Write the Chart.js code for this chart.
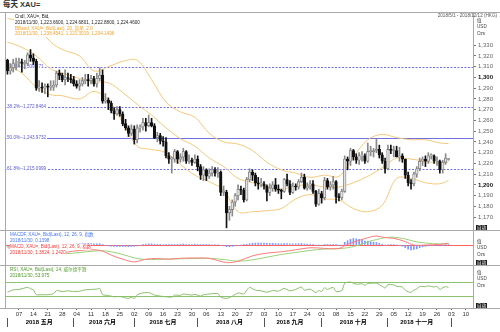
<!DOCTYPE html>
<html lang="zh">
<head>
<meta charset="utf-8">
<title>每天 XAU=</title>
<script src="https://cdn.jsdelivr.net/npm/chart.js@4.4.1/dist/chart.umd.min.js"></script>
<style>
  html, body { margin: 0; padding: 0; background: #fff; }
  body { width: 500px; height: 332px; position: relative; overflow: hidden;
         font-family: 'Liberation Sans', Arial, 'Noto Sans CJK SC', sans-serif; color: #222; }
  .panel { position: absolute; left: 0; width: 500px; }
  .panel canvas { display: block; }
  .hline { position: absolute; left: 0; width: 500px; height: 1px; background: #a9a9a9; }
  .vline { position: absolute; width: 1px; background: #a9a9a9; }
  .note { position: absolute; white-space: nowrap; font-size: 4.6px; line-height: 6px; background: #fff; }
  .legend { position: absolute; background: #fff; padding: 0 1px; }
  .legend div { white-space: nowrap; font-size: 4.6px; line-height: 5.8px; }
  .unit { position: absolute; left: 477px; font-size: 4.6px; line-height: 6.3px; color: #444; }
  .auto { position: absolute; left: 476px; background: #1a1a1a; color: #fff; font-size: 4.6px; line-height: 5px; padding: 0 1px; }
  #title { position: absolute; left: 3px; top: 0; font-size: 7.5px; font-weight: bold; line-height: 10px; color: #333; }
  #range { position: absolute; right: 3px; top: 13px; font-size: 4.6px; line-height: 5px; color: #555; }
</style>
</head>
<body>
<div id="title">每天 XAU=</div>
<div class="hline" style="top:12px"></div>
<div class="hline" style="top:230px"></div>
<div class="hline" style="top:265px"></div>
<div class="hline" style="top:308px"></div>
<div class="vline" style="left:5px;top:12px;height:297px"></div>

<div class="panel" style="top:13px;height:217px"><canvas id="mainChart"></canvas></div>
<div class="panel" style="top:231px;height:34px"><canvas id="macdChart"></canvas></div>
<div class="panel" style="top:266px;height:66px"><canvas id="rsiChart"></canvas></div>

<div id="range">2018/5/1 - 2018/12/12 (HKG)</div>
<div class="legend" style="left:14px;top:14px">
  <div style="color:#222">Cndl, XAU=, Bid,</div>
  <div style="color:#222">2018/11/30, 1,223.6600, 1,224.6801, 1,222.8800, 1,224.4600</div>
  <div style="color:#f0a530">BBand, XAU=, Bid(Last), 20, 简单, 2.0</div>
  <div style="color:#f0a530">2018/11/30, 1,238.4541, 1,221.3019, 1,204.1496</div>
</div>
<div class="unit" style="top:18px">值<br>USD<br>Ozs</div>
<div class="auto" style="top:225px">自动</div>

<div class="note" style="left:10px;top:232px;color:#4a78f0">MACDF, XAU=, Bid(Last), 12, 26, 9, 指数</div>
<div class="note" style="left:10px;top:237.5px;color:#4a78f0">2018/11/30, 0.1398</div>
<div class="note" style="left:10px;top:243.5px;color:#f03c3c">MACD, XAU=, Bid(Last), 12, 26, 9, 指数</div>
<div class="note" style="left:10px;top:249.5px;color:#f03c3c">2018/11/30, 1.3824, 1.2420</div>
<div class="unit" style="top:239px">值<br>USD<br>Ozs</div>
<div class="auto" style="top:260px">自动</div>

<div class="note" style="left:10px;top:267px;color:#4f9a2c">RSI, XAU=, Bid(Last), 14, 威尔德平滑</div>
<div class="note" style="left:10px;top:272.5px;color:#4f9a2c">2018/11/30, 53.975</div>
<div class="unit" style="top:270px">值<br>USD<br>Ozs</div>
<div class="auto" style="top:303px">自动</div>

<script>
// ===== Dados =====
const firstDay = '2018-05-01';
const lastDay = '2018-12-12';
const monthNames = ['五月', '六月', '七月', '八月', '九月', '十月', '十一月'];
const priceTicks = [1170, 1180, 1190, 1200, 1210, 1220, 1230, 1240, 1250, 1260,
  1270, 1280, 1290, 1300, 1310, 1320, 1330];

// daily candles, one per trading day from 2018-05-01
const opens = [
  1316, 1306, 1309, 1313, 1314, 1314, 1313, 1313, 1321, 1318,
  1315, 1290, 1291, 1290, 1292, 1291, 1291, 1293, 1304, 1302,
  1298, 1300, 1299, 1298, 1294, 1292, 1294, 1297, 1298, 1297,
  1299, 1294, 1299, 1302, 1278, 1279, 1276, 1269, 1266, 1270,
  1266, 1257, 1253, 1248, 1252, 1242, 1253, 1254, 1258, 1255,
  1258, 1255, 1244, 1246, 1241, 1240, 1227, 1224, 1224, 1231,
  1224, 1226, 1231, 1222, 1223, 1221, 1224, 1217, 1209, 1214,
  1208, 1211, 1214, 1211, 1212, 1193, 1193, 1174, 1177, 1184,
  1190, 1196, 1195, 1186, 1205, 1212, 1209, 1202, 1201, 1201,
  1199, 1193, 1197, 1200, 1196, 1195, 1194, 1205, 1201, 1193,
  1199, 1198, 1203, 1207, 1197, 1199, 1201, 1194, 1182, 1192,
  1188, 1204, 1198, 1200, 1203, 1189, 1188, 1194, 1224, 1222,
  1232, 1226, 1223, 1227, 1227, 1222, 1231, 1231, 1232, 1233,
  1228, 1222, 1215, 1233, 1232, 1232, 1226, 1227, 1224, 1209,
  1202, 1201, 1210, 1215, 1222, 1224, 1222, 1227, 1227, 1222,
  1222, 1214, 1221, 1223.66
];
const highs = [
  1317, 1313, 1317, 1318, 1318, 1317, 1316, 1323, 1326, 1322,
  1317, 1297, 1295, 1294, 1294, 1297, 1297, 1306, 1307, 1304,
  1307, 1304, 1303, 1301, 1297, 1298, 1300, 1303, 1303, 1302,
  1301, 1304, 1309, 1307, 1285, 1281, 1278, 1272, 1273, 1273,
  1268, 1261, 1255, 1256, 1255, 1256, 1256, 1262, 1262, 1265,
  1262, 1257, 1249, 1248, 1245, 1244, 1230, 1226, 1233, 1232,
  1229, 1234, 1232, 1228, 1225, 1228, 1227, 1219, 1217, 1215,
  1215, 1217, 1216, 1216, 1213, 1199, 1195, 1180, 1186, 1192,
  1200, 1199, 1197, 1207, 1215, 1214, 1211, 1207, 1206, 1203,
  1200, 1201, 1203, 1206, 1200, 1196, 1206, 1210, 1204, 1202,
  1201, 1205, 1211, 1210, 1202, 1204, 1204, 1195, 1196, 1194,
  1207, 1206, 1203, 1208, 1204, 1192, 1196, 1227, 1226, 1234,
  1233, 1229, 1230, 1231, 1229, 1239, 1236, 1234, 1243, 1237,
  1230, 1225, 1237, 1237, 1236, 1236, 1235, 1229, 1224, 1212,
  1205, 1212, 1217, 1225, 1226, 1227, 1230, 1229, 1228, 1226,
  1223, 1223, 1229, 1224.68
];
const lows = [
  1303, 1303, 1305, 1307, 1310, 1305, 1308, 1311, 1315, 1312,
  1288, 1287, 1286, 1285, 1282, 1288, 1288, 1291, 1298, 1296,
  1293, 1296, 1295, 1292, 1290, 1288, 1292, 1294, 1292, 1294,
  1292, 1291, 1297, 1276, 1276, 1270, 1267, 1261, 1265, 1264,
  1255, 1251, 1245, 1246, 1238, 1239, 1249, 1251, 1250, 1254,
  1254, 1243, 1240, 1238, 1236, 1225, 1220, 1211, 1221, 1220,
  1221, 1222, 1220, 1220, 1218, 1220, 1213, 1205, 1204, 1204,
  1206, 1208, 1208, 1207, 1190, 1190, 1160, 1167, 1171, 1180,
  1186, 1191, 1184, 1185, 1203, 1204, 1199, 1196, 1198, 1196,
  1185, 1190, 1194, 1194, 1192, 1187, 1193, 1199, 1191, 1192,
  1195, 1196, 1202, 1196, 1195, 1196, 1192, 1180, 1181, 1183,
  1186, 1196, 1195, 1196, 1183, 1185, 1186, 1193, 1214, 1218,
  1223, 1220, 1219, 1222, 1220, 1221, 1227, 1226, 1230, 1225,
  1220, 1211, 1214, 1229, 1226, 1226, 1222, 1221, 1206, 1199,
  1196, 1199, 1207, 1213, 1218, 1217, 1220, 1224, 1220, 1218,
  1211, 1211, 1219, 1222.88
];
const closes = [
  1306, 1309, 1313, 1314, 1314, 1313, 1313, 1321, 1318, 1315,
  1290, 1291, 1290, 1292, 1291, 1291, 1293, 1304, 1302, 1298,
  1300, 1299, 1298, 1294, 1292, 1294, 1297, 1298, 1297, 1299,
  1294, 1299, 1302, 1278, 1279, 1276, 1269, 1266, 1270, 1266,
  1257, 1253, 1248, 1252, 1242, 1253, 1254, 1258, 1255, 1258,
  1255, 1244, 1246, 1241, 1240, 1227, 1224, 1224, 1231, 1224,
  1226, 1231, 1222, 1223, 1221, 1224, 1217, 1209, 1214, 1208,
  1211, 1214, 1211, 1212, 1193, 1193, 1174, 1177, 1184, 1190,
  1196, 1195, 1186, 1205, 1212, 1209, 1202, 1201, 1201, 1199,
  1193, 1197, 1200, 1196, 1195, 1194, 1205, 1201, 1193, 1199,
  1198, 1203, 1207, 1197, 1199, 1201, 1194, 1182, 1192, 1188,
  1204, 1198, 1200, 1203, 1189, 1188, 1194, 1224, 1222, 1232,
  1226, 1223, 1227, 1227, 1222, 1231, 1231, 1232, 1233, 1228,
  1222, 1215, 1233, 1232, 1232, 1226, 1227, 1224, 1209, 1202,
  1201, 1210, 1215, 1222, 1224, 1222, 1227, 1227, 1222, 1222,
  1214, 1221, 1225, 1224.46
];

// Bollinger (20, 2.0)
const bandDays = ['05-01', '05-08', '05-15', '05-22', '05-28', '06-05', '06-12', '06-19',
  '06-26', '07-03', '07-10', '07-17', '07-24', '07-31', '08-07', '08-14', '08-21', '08-28',
  '09-04', '09-11', '09-18', '09-25', '10-02', '10-09', '10-16', '10-23', '10-30', '11-06',
  '11-13', '11-20', '11-27', '11-30'];
const bandUpper = [1355, 1352, 1348, 1333, 1326, 1320, 1306, 1310, 1315, 1316, 1298, 1277,
  1268, 1263, 1248, 1240, 1238, 1232, 1221, 1214, 1211, 1207, 1209, 1208, 1226, 1242, 1247,
  1244, 1242, 1242, 1239, 1238.4541];
const bandMiddle = [1333, 1328, 1320, 1308, 1304, 1299, 1296, 1295, 1286, 1275, 1265, 1253,
  1243, 1236, 1225, 1217, 1206, 1202, 1198, 1196, 1199, 1200, 1198, 1198, 1202, 1208, 1216,
  1225, 1224, 1222, 1220, 1221.3019];
const bandLower = [1311, 1304, 1291, 1284, 1283, 1280, 1287, 1279, 1258, 1236, 1233, 1230,
  1219, 1209, 1203, 1195, 1175, 1175, 1176, 1178, 1187, 1191, 1187, 1186, 1178, 1175, 1181,
  1206, 1206, 1202, 1201, 1204.1496];

// Fibonacci retracement levels
const fibRatios = ['23.6%', '38.2%', '50.0%', '61.8%'];
const fibLevels = [1309.571, 1272.8464, 1243.9732, 1215.0999];
const fibDashed = [true, true, false, true];

// MACD (12, 26, 9)
const macdDays = ['05-01', '05-08', '05-15', '05-22', '05-29', '06-05', '06-12', '06-15',
  '06-20', '06-26', '07-02', '07-06', '07-12', '07-18', '07-24', '07-31', '08-07', '08-15',
  '08-21', '08-28', '09-04', '09-11', '09-18', '09-25', '10-02', '10-09', '10-12', '10-18',
  '10-24', '10-26', '10-31', '11-05', '11-09', '11-14', '11-20', '11-27', '11-30'];
const macdLine = [-2, -4, -6, -7.5, -5.5, -4, -3.5, -4.5, -7.5, -10.5, -12.5, -10.5, -10,
  -10.5, -9.8, -9.6, -9.9, -13, -12, -8, -6, -5, -3.5, -2, -2.5, -2.5, 0.5, 3.5, 6, 6.7,
  5.5, 5, 2.5, 0, 0, 0.5, 1.3824];
const signalLine = [-1, -2, -4, -6, -6.5, -5.5, -4.5, -4.2, -5, -7, -9.5, -10.8, -10.6,
  -10.4, -10.2, -10, -9.8, -11, -12, -11, -9, -7, -5.5, -4, -3, -2.7, -2, 0, 3, 4, 5.5, 5.8,
  4.5, 2.8, 1.5, 0.8, 1.2420];
// MACDF bars, one per candle day
const macdHist = [
  -0.8, -0.9, -0.8, -0.7, -0.6, -0.6, -0.5, -0.2, -0.1, -0.2,
  -1.2, -1.6, -1.8, -1.7, -1.5, -1.2, -1.0, -0.5, -0.2, 0.1,
  0.3, 0.5, 0.6, 0.6, 0.7, 0.8, 0.9, 1.0, 1.0, 1.0,
  0.8, 0.9, 1.0, 0.3, -0.3, -0.6, -0.9, -1.0, -1.0, -1.0,
  -1.1, -1.1, -1.2, -1.0, -1.0, -0.6, -0.2, 0.3, 0.7, 0.9,
  0.9, 0.6, 0.6, 0.5, 0.4, 0.2, 0.1, 0.1, 0.4, 0.5,
  0.6, 0.8, 0.6, 0.6, 0.6, 0.7, 0.5, 0.3, 0.3, 0.2,
  0.3, 0.4, 0.4, 0.4, -0.3, -0.6, -1.2, -1.3, -1.0, -0.6,
  -0.3, 0.0, 0.2, 0.6, 1.0, 1.3, 1.4, 1.5, 1.5, 1.4,
  1.2, 1.2, 1.2, 1.1, 1.0, 0.9, 1.1, 1.1, 0.9, 0.9,
  0.9, 1.0, 1.1, 0.8, 0.7, 0.7, 0.5, 0.0, 0.0, -0.1,
  0.3, 0.3, 0.4, 0.5, 0.1, -0.1, 0.0, 2.0, 3.2, 4.2,
  4.8, 4.6, 4.2, 3.8, 3.0, 2.9, 2.5, 2.1, 1.8, 1.2,
  0.6, -0.1, 0.4, 0.5, 0.4, 0.0, -0.3, -0.8, -1.9, -3.0,
  -3.6, -3.3, -2.8, -2.0, -1.4, -1.0, -0.6, -0.3, -0.2, -0.1,
  -0.3, -0.1, 0.1, 0.1398
];
const macdZero = [0];

// RSI (14)
const rsiDays = ['05-01', '05-03', '05-07', '05-10', '05-11', '05-14', '05-15', '05-17',
  '05-21', '05-23', '05-24', '05-28', '05-30', '06-01', '06-05', '06-07', '06-11', '06-13',
  '06-14', '06-15', '06-19', '06-21', '06-25', '06-27', '06-28', '06-29', '07-02', '07-03',
  '07-05', '07-09', '07-11', '07-13', '07-17', '07-19', '07-20', '07-24', '07-25', '07-26',
  '07-30', '07-31', '08-02', '08-03', '08-06', '08-08', '08-10', '08-13', '08-15', '08-17',
  '08-21', '08-23', '08-24', '08-27', '08-29', '08-31', '09-04', '09-06', '09-10', '09-12',
  '09-14', '09-18', '09-20', '09-21', '09-25', '09-27', '09-28', '10-01', '10-02', '10-03',
  '10-05', '10-08', '10-10', '10-11', '10-15', '10-17', '10-19', '10-22', '10-23', '10-26',
  '10-29', '10-30', '10-31', '11-01', '11-05', '11-06', '11-08', '11-09', '11-12', '11-13',
  '11-14', '11-15', '11-16', '11-20', '11-21', '11-23', '11-26', '11-27', '11-28', '11-29',
  '11-30'];
const rsiValues = [40, 47, 48, 54, 50, 47, 33, 33,
  33, 36, 45, 42, 44, 42, 43, 47, 48, 49,
  51, 33, 31, 27, 28, 24, 22, 26, 22, 33,
  38, 39, 32, 29, 27, 26, 32, 31, 35, 34,
  32, 34, 29, 33, 34, 36, 36, 26, 22, 29,
  38, 35, 46, 54, 46, 44, 40, 45, 43, 51,
  44, 48, 55, 46, 49, 39, 45, 42, 53, 48,
  54, 42, 45, 66, 69, 63, 64, 60, 65, 66,
  62, 57, 52, 62, 61, 57, 55, 46, 41, 40,
  46, 50, 56, 56, 58, 55, 57, 48, 53, 56,
  53.975];
const rsiLevels = [70, 30];

// ===== Helpers =====
function tradingDays(from, to) {
  const out = [];
  const d = new Date(from + 'T00:00:00Z');
  const end = new Date(to + 'T00:00:00Z');
  while (d <= end) {
    const wd = d.getUTCDay();
    if (wd !== 0 && wd !== 6) out.push(d.toISOString().slice(0, 10));
    d.setUTCDate(d.getUTCDate() + 1);
  }
  return out;
}

const days = tradingDays(firstDay, lastDay);
const at = (md, v) => ({ x: '2018-' + md, y: v });
const series = (mds, values) => mds.map((md, i) => at(md, values[i]));
const isUp = (i) => closes[i] >= opens[i];

// first trading day of every month, and the middle day that carries its name
const monthStarts = days.map((d, i) => i === 0 || d.slice(5, 7) !== days[i - 1].slice(5, 7));
const monthMiddles = {};
(function () {
  const starts = [];
  monthStarts.forEach((s, i) => s && starts.push(i));
  starts.forEach((s, k) => {
    if (k >= monthNames.length) return;
    const end = k + 1 < starts.length ? starts[k + 1] : days.length;
    monthMiddles[Math.floor((s + end - 1) / 2)] = '2018 ' + monthNames[k];
  });
})();

Chart.defaults.font.family = "'Liberation Sans', Arial, 'Noto Sans CJK SC', sans-serif";
Chart.defaults.font.size = 6;

const base = {
  responsive: true,
  maintainAspectRatio: false,
  animation: false,
  events: [],
  layout: { padding: { left: 6, right: 0, top: 0, bottom: 0 } },
  plugins: { legend: { display: false }, tooltip: { enabled: false } },
};

const hiddenX = () => ({
  type: 'category', labels: days, offset: true, display: false,
  grid: { offset: false },
});

const sideAxis = (min, max, extra) => Object.assign({
  position: 'right', min, max,
  ticks: { display: false },
  grid: { drawOnChartArea: false, drawTicks: false },
  border: { color: '#a9a9a9' },
  afterFit(s) { s.width = 27; s.paddingTop = 0; s.paddingBottom = 0; },
}, extra);

// horizontal reference lines (zero line, RSI bounds)
function levelLines(id, values, color) {
  return {
    id,
    beforeDatasetsDraw(chart) {
      const { ctx, chartArea: a, scales: { y } } = chart;
      ctx.save();
      ctx.strokeStyle = color;
      ctx.lineWidth = 1;
      values.forEach((v) => {
        const py = Math.round(y.getPixelForValue(v)) + 0.5;
        ctx.beginPath();
        ctx.moveTo(a.left, py);
        ctx.lineTo(a.right, py);
        ctx.stroke();
      });
      ctx.restore();
    },
  };
}

// retracement lines with their captions on a white patch at the left edge
const fibPlugin = {
  id: 'fibLevels',
  beforeDatasetsDraw(chart) {
    const { ctx, chartArea: a, scales: { y } } = chart;
    ctx.save();
    ctx.lineWidth = 1;
    ctx.font = "4.6px 'Liberation Sans', Arial, sans-serif";
    ctx.textBaseline = 'middle';
    fibLevels.forEach((v, i) => {
      const py = Math.round(y.getPixelForValue(v)) + 0.5;
      ctx.strokeStyle = '#7070e0';
      ctx.setLineDash(fibDashed[i] ? [2, 1.5] : []);
      ctx.beginPath();
      ctx.moveTo(a.left, py);
      ctx.lineTo(a.right, py);
      ctx.stroke();
      const text = fibRatios[i] + '--' + v.toLocaleString('en-US', { maximumFractionDigits: 4 });
      const w = ctx.measureText(text).width;
      ctx.fillStyle = '#fff';
      ctx.fillRect(a.left + 0.5, py - 3, w + 1.5, 4.5);
      ctx.fillStyle = '#5a5ad0';
      ctx.fillText(text, a.left + 1, py - 0.8);
    });
    ctx.restore();
  },
};

const bandLine = (values) => ({
  type: 'line',
  data: series(bandDays, values),
  borderColor: '#f5c97c',
  borderWidth: 1,
  pointRadius: 0,
  tension: 0.35,
  order: 3,
});

// ===== Preço + Bollinger =====
new Chart(document.getElementById('mainChart'), {
  type: 'bar',
  data: {
    labels: days,
    datasets: [
      bandLine(bandUpper),
      bandLine(bandMiddle),
      bandLine(bandLower),
      {
        label: 'wick',
        data: closes.map((c, i) => ({ x: days[i], y: [lows[i], highs[i]] })),
        backgroundColor: (ctx) => (isUp(ctx.dataIndex) ? '#8a8a8a' : '#111'),
        barThickness: 1,
        grouped: false,
        order: 2,
      },
      {
        label: 'body',
        data: closes.map((c, i) => ({ x: days[i], y: [opens[i], c] })),
        backgroundColor: (ctx) => (isUp(ctx.dataIndex) ? '#e2e2e2' : '#111'),
        borderColor: (ctx) => (isUp(ctx.dataIndex) ? '#7c7c7c' : '#111'),
        borderWidth: 0.8,
        borderSkipped: false,
        barThickness: 2.6,
        minBarLength: 1,
        grouped: false,
        order: 1,
      },
    ],
  },
  options: {
    ...base,
    scales: {
      x: hiddenX(),
      y: sideAxis(1158, 1360, {
        afterBuildTicks(s) { s.ticks = priceTicks.map((v) => ({ value: v })); },
        ticks: {
          display: true,
          padding: 2,
          color: (ctx) => (ctx.tick.value % 100 === 0 ? '#111' : '#666'),
          font: (ctx) => ({ size: 6, weight: ctx.tick && ctx.tick.value % 100 === 0 ? 'bold' : 'normal' }),
          callback: (v) => v.toLocaleString('en-US'),
        },
        grid: { drawOnChartArea: false, drawTicks: true, tickLength: 3, color: '#777' },
      }),
    },
  },
  plugins: [fibPlugin],
});

// ===== MACD =====
new Chart(document.getElementById('macdChart'), {
  type: 'bar',
  data: {
    labels: days,
    datasets: [
      {
        type: 'line',
        data: series(macdDays, signalLine),
        borderColor: '#9ad27a',
        borderWidth: 1,
        pointRadius: 0,
        tension: 0.35,
        order: 2,
      },
      {
        type: 'line',
        data: series(macdDays, macdLine),
        borderColor: '#ff7b7b',
        borderWidth: 1,
        pointRadius: 0,
        tension: 0.35,
        order: 1,
      },
      {
        data: macdHist.map((v, i) => ({ x: days[i], y: v })),
        backgroundColor: '#7b96ff',
        barThickness: 1,
        grouped: false,
        order: 3,
      },
    ],
  },
  options: {
    ...base,
    scales: { x: hiddenX(), y: sideAxis(-14.8, 10.4) },
  },
  plugins: [levelLines('macdZero', macdZero, '#ff6060')],
});

// ===== RSI + eixo de datas =====
new Chart(document.getElementById('rsiChart'), {
  type: 'line',
  data: {
    labels: days,
    datasets: [
      {
        data: series(rsiDays, rsiValues),
        borderColor: '#86bf66',
        borderWidth: 1,
        pointRadius: 0,
        tension: 0.2,
      },
    ],
  },
  options: {
    ...base,
    scales: {
      x: {
        type: 'category', labels: days, offset: true, weight: 0,
        grid: {
          offset: false, drawOnChartArea: false, tickLength: 2,
          color: (ctx) => (days[ctx.index] && new Date(days[ctx.index]).getUTCDay() === 1 ? '#666' : 'rgba(0,0,0,0)'),
        },
        border: { display: true, color: '#a9a9a9' },
        ticks: {
          autoSkip: false, maxRotation: 0, padding: 1, color: '#333',
          font: { size: 6 },
          callback: (v, i) => (new Date(days[i]).getUTCDay() === 1 ? days[i].slice(8) : ''),
        },
        afterFit(s) { s.height = 10; s.paddingLeft = 0; s.paddingRight = 0; },
      },
      months: {
        type: 'category', labels: days, offset: true, position: 'bottom', weight: 1,
        grid: {
          offset: false, drawOnChartArea: false, tickLength: 9,
          color: (ctx) => (monthStarts[ctx.index] ? '#555' : 'rgba(0,0,0,0)'),
        },
        border: { display: false },
        ticks: {
          autoSkip: false, maxRotation: 0, padding: -8, color: '#000',
          font: { size: 6, weight: 'bold' },
          callback: (v, i) => monthMiddles[i] || '',
        },
        afterFit(s) { s.height = 14; s.paddingLeft = 0; s.paddingRight = 0; },
      },
      y: sideAxis(-5, 115),
    },
  },
  plugins: [levelLines('rsiBounds', rsiLevels, '#8cc270')],
});
</script>
</body>
</html>
